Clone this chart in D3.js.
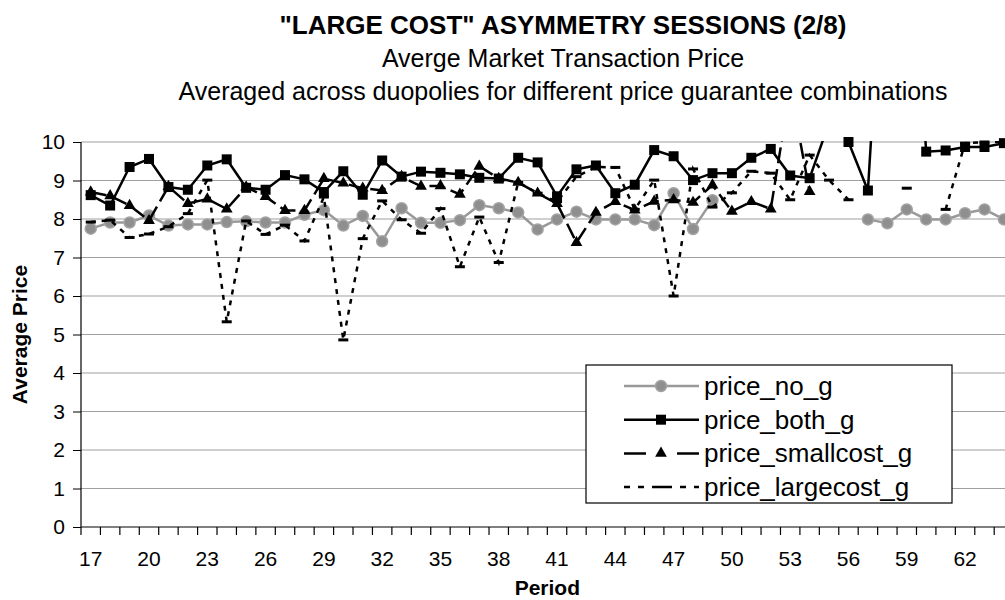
<!DOCTYPE html>
<html>
<head>
<meta charset="utf-8">
<style>
    body { margin: 0; background: #fff; }
    svg { font-family: 'Liberation Sans', Arial, sans-serif; display: block; }
    .x .domain, .y .domain { display: none; }
    .y .tick line { stroke: #000; }
    .x .tick text, .y .tick text { font-size: 21px; fill: #000; }
</style>
</head>
<body>
<svg width="1005" height="600"></svg>
<script src="https://d3js.org/d3.v7.min.js"></script>
<script>
    // categories and tick labels
    const periods = [17, 18, 19, 20, 21, 22, 23, 24, 25, 26, 27, 28, 29, 30, 31, 32,
        33, 34, 35, 36, 37, 38, 39, 40, 41, 42, 43, 44, 45, 46, 47, 48,
        49, 50, 51, 52, 53, 54, 55, 56, 57, 58, 59, 60, 61, 62, 63, 64];
    const xLabels = [17, 20, 23, 26, 29, 32, 35, 38, 41, 44, 47, 50, 53, 56, 59, 62];
    const yTicks = [0, 1, 2, 3, 4, 5, 6, 7, 8, 9, 10];

    // series values (null = no data)
    const priceNoG = [7.75, 7.91, 7.91, 8.09, 7.83, 7.86, 7.86, 7.92, 7.94, 7.91, 7.91, 8.11, 8.23, 7.83, 8.08, 7.42,
        8.28, 7.90, 7.90, 7.97, 8.36, 8.28, 8.17, 7.73, 7.99, 8.19, 7.99, 7.99, 7.99, 7.84, 8.67, 7.74,
        8.49, null, null, null, null, null, null, null, 7.99, 7.89, 8.25, 7.99, 7.99, 8.15, 8.25, 7.99];
    const priceBothG = [8.62, 8.35, 9.35, 9.56, 8.83, 8.76, 9.39, 9.55, 8.81, 8.76, 9.14, 9.03, 8.70, 9.24, 8.63, 9.52,
        9.10, 9.23, 9.20, 9.16, 9.07, 9.05, 9.59, 9.47, 8.59, 9.29, 9.39, 8.67, 8.89, 9.79, 9.63, 9.01,
        9.19, 9.19, 9.59, 9.82, 9.13, 9.06, 10.5, 10.0, 8.74, 17.0, 17.0, 9.75, 9.78, 9.87, 9.87, 9.97];
    const priceSmallcostG = [8.70, 8.60, 8.35, 7.96, 8.84, 8.40, 8.52, 8.26, 8.83, 8.58, 8.22, 8.22, 9.05, 8.93, 8.80, 8.74,
        9.10, 8.85, 8.86, 8.64, 9.37, 9.05, 8.95, 8.67, 8.40, 7.39, 8.17, 8.45, 8.23, 8.46, 8.50, 8.43,
        8.88, 8.20, 8.45, 8.26, 11.4, 8.71, null, null, null, null, null, null, null, null, null, null];
    const priceLargecostG = [7.92, 7.97, 7.52, 7.61, 7.80, 8.14, 9.01, 5.33, 7.95, 7.60, 7.84, 7.43, 8.57, 4.86, 7.49, 8.47,
        7.98, 7.63, 8.27, 6.76, 8.05, 6.87, 8.95, 8.67, 8.45, 9.10, 9.35, 9.34, 8.25, 9.01, 6.00, 9.30,
        8.31, 8.68, 9.24, 9.19, 8.50, 9.66, 9.01, 8.50, null, null, 8.80, null, 8.25, 9.97, 10.0, 10.0];

    const seriesNames = ["price_no_g", "price_both_g", "price_smallcost_g", "price_largecost_g"];
    const seriesValues = [priceNoG, priceBothG, priceSmallcostG, priceLargecostG];

    // looks per series
    const looks = [
        { color: "#999", width: 2.5, dash: null, marker: "circle" },
        { color: "#000", width: 2.5, dash: null, marker: "square" },
        { color: "#000", width: 2.5, dash: "16,6", marker: "triangle" },
        { color: "#000", width: 2.5, dash: "5,6", marker: "bar" }
    ];

    const margin = { top: 142, left: 81, bottom: 527 };
    const bandW = 19.43;

    const svg = d3.select("svg");

    const x = d3.scaleBand()
        .domain(periods)
        .range([margin.left, margin.left + bandW * periods.length]);

    const y = d3.scaleLinear()
        .domain([0, 10])
        .range([margin.bottom, margin.top]);

    const cx = function (p) { return x(p) + x.bandwidth() / 2 };

    // titles
    const titles = svg.append("g").attr("text-anchor", "middle");
    titles.append("text").attr("x", 563).attr("y", 34)
        .style("font-size", "26px").style("font-weight", "bold")
        .text("\"LARGE COST\" ASYMMETRY SESSIONS (2/8)");
    titles.append("text").attr("x", 563).attr("y", 67)
        .style("font-size", "25px")
        .text("Averge Market Transaction Price");
    titles.append("text").attr("x", 563).attr("y", 100)
        .style("font-size", "25px")
        .text("Averaged across duopolies for different price guarantee combinations");

    // grid lines
    svg.append("g")
        .selectAll("line")
        .data(yTicks.filter(function (t) { return t > 0 }))
        .join("line")
        .attr("x1", margin.left)
        .attr("x2", 1005)
        .attr("y1", function (d) { return y(d) })
        .attr("y2", function (d) { return y(d) })
        .style("stroke", "#a0a0a0")
        .style("stroke-width", 1.2);

    // y axis
    svg.append("g")
        .attr("class", "y axis")
        .attr("transform", `translate(${margin.left},0)`)
        .call(d3.axisLeft(y).tickValues(yTicks).tickSize(8).tickPadding(8).tickFormat(d3.format("d")));

    svg.append("line")
        .attr("x1", margin.left).attr("x2", margin.left)
        .attr("y1", margin.top).attr("y2", margin.bottom)
        .style("stroke", "#000").style("stroke-width", 1.2);

    // x axis: labels on category centres, tick marks on category boundaries
    svg.append("g")
        .attr("class", "x axis")
        .attr("transform", `translate(0,${margin.bottom})`)
        .call(d3.axisBottom(x).tickValues(xLabels).tickSize(0).tickPadding(24));

    svg.append("g")
        .selectAll("line")
        .data(periods)
        .join("line")
        .attr("x1", function (d) { return x(d) })
        .attr("x2", function (d) { return x(d) })
        .attr("y1", margin.bottom)
        .attr("y2", margin.bottom + 8)
        .style("stroke", "#000").style("stroke-width", 1.2);

    svg.append("line")
        .attr("x1", margin.left).attr("x2", 1005)
        .attr("y1", margin.bottom).attr("y2", margin.bottom)
        .style("stroke", "#000").style("stroke-width", 1.2);

    // axis titles
    svg.append("text")
        .attr("x", x(40) + x.bandwidth()).attr("y", 595)
        .attr("text-anchor", "middle")
        .style("font-size", "21px").style("font-weight", "bold")
        .text("Period");

    svg.append("text")
        .attr("transform", `translate(27,${(margin.top + margin.bottom) / 2}) rotate(-90)`)
        .attr("text-anchor", "middle")
        .style("font-size", "21px").style("font-weight", "bold")
        .text("Average Price");

    // clip lines to plot area
    svg.append("clipPath").attr("id", "plot")
        .append("rect")
        .attr("x", margin.left).attr("y", margin.top - 1)
        .attr("width", 1005 - margin.left).attr("height", margin.bottom - margin.top + 1);

    const line = d3.line()
        .defined(function (d) { return d.v != null })
        .x(function (d) { return cx(d.p) })
        .y(function (d) { return y(d.v) });

    function drawMarker(sel, kind, color) {
        if (kind === "circle") {
            sel.append("circle").attr("r", 5.5).style("fill", "#8f8f8f").style("stroke", "#a3a3a3").style("stroke-width", 1.5);
        } else if (kind === "square") {
            sel.append("path").attr("d", d3.symbol(d3.symbolSquare, 100)()).style("fill", color);
        } else if (kind === "triangle") {
            sel.append("path").attr("d", d3.symbol(d3.symbolTriangle, 60)()).style("fill", color);
        } else {
            sel.append("rect").attr("x", -5).attr("y", -1.5).attr("width", 10).attr("height", 3).style("fill", color);
        }
    }

    seriesValues.forEach(function (vals, i) {
        const look = looks[i];
        const rows = periods.map(function (p, j) { return { p: p, v: vals[j] } });

        svg.append("path")
            .datum(rows)
            .attr("clip-path", "url(#plot)")
            .attr("d", line)
            .style("fill", "none")
            .style("stroke", look.color)
            .style("stroke-width", look.width)
            .style("stroke-dasharray", look.dash);

        svg.append("g")
            .selectAll("g")
            .data(rows.filter(function (d) { return d.v != null && d.v <= 10 }))
            .join("g")
            .attr("transform", function (d) { return `translate(${cx(d.p)},${y(d.v)})` })
            .each(function () { drawMarker(d3.select(this), look.marker, look.color) });
    });

    // legend
    const legend = svg.append("g").attr("transform", "translate(586,365)");
    legend.append("rect")
        .attr("width", 366).attr("height", 138)
        .style("fill", "#fff").style("stroke", "#000").style("stroke-width", 1.2);

    const legendDash = [null, null, "22,31,22", "6,8,6,8,20,8,6,8"];

    seriesNames.forEach(function (name, i) {
        const look = looks[i];
        const row = legend.append("g").attr("transform", `translate(0,${21 + i * 33.7})`);
        row.append("line")
            .attr("x1", 38).attr("x2", 113)
            .style("stroke", look.color)
            .style("stroke-width", look.width)
            .style("stroke-dasharray", legendDash[i]);
        const m = row.append("g").attr("transform", "translate(75,0)");
        if (i < 3) drawMarker(m, look.marker, look.color);
        row.append("text")
            .attr("x", 118).attr("y", 9)
            .style("font-size", "26px")
            .text(name);
    });
</script>
</body>
</html>
